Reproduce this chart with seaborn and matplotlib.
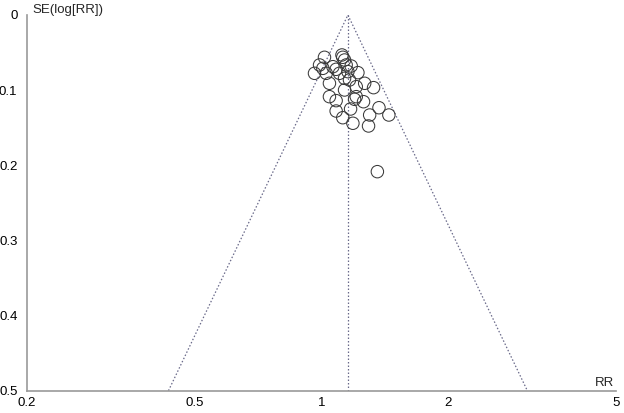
import numpy as np
import pandas as pd
import matplotlib
matplotlib.use("Agg")
import matplotlib.pyplot as plt
import seaborn as sns

# Study estimates (risk ratio) and standard errors of log(RR)
rr = [1.018, 1.12, 1.125, 1.136, 0.991, 0.964, 1.009, 1.066, 1.085, 1.146,
      1.178, 1.028, 1.105, 1.157, 1.222, 1.046, 1.136, 1.167, 1.136, 1.211,
      1.268, 1.331, 1.046, 1.085, 1.211, 1.200, 1.260, 1.085, 1.125, 1.174,
      1.189, 1.303, 1.371, 1.447, 1.295, 1.359]
se = [0.0563, 0.0532, 0.0563, 0.0599, 0.0665, 0.0776, 0.0710, 0.0688, 0.0723, 0.0665,
      0.0679, 0.0776, 0.0776, 0.0754, 0.0767, 0.0909, 0.0843, 0.0865, 0.0998, 0.0954,
      0.0909, 0.0967, 0.1087, 0.1140, 0.1087, 0.1122, 0.1154, 0.1278, 0.1367, 0.1251,
      0.1441, 0.1331, 0.1234, 0.1331, 0.1477, 0.2085]
pooled_rr = 1.157
se_max = 0.5
x_ticks = [0.2, 0.5, 1, 2, 5]
x_ticklabels = ["0.2", "0.5", "1", "2", "5"]
y_ticks = [0, 0.1, 0.2, 0.3, 0.4, 0.5]
y_ticklabels = ["0", "0.1", "0.2", "0.3", "0.4", "0.5"]

df = pd.DataFrame({"RR": rr, "SE": se})

sns.set_theme(style="white")
plt.rcParams["font.family"] = ["Liberation Sans", "DejaVu Sans"]

fig = plt.figure(figsize=(6.24, 4.13), dpi=100)
ax = fig.add_axes([0.0425, 0.054, 0.9445, 0.9097])

# funnel lines
lp = np.log(pooled_rr)
line_col = "#6a6a8a"
ax.plot([np.exp(lp - 1.96 * se_max), pooled_rr, np.exp(lp + 1.96 * se_max)],
        [se_max, 0, se_max], ls=(0, (1.2, 1.6)), color=line_col, lw=0.9, zorder=1)
ax.plot([pooled_rr, pooled_rr], [0, se_max], ls=(0, (1.2, 1.6)), color=line_col, lw=0.9, zorder=1)

sns.scatterplot(data=df, x="RR", y="SE", ax=ax, marker="o", s=80,
                facecolor="none", edgecolor="#3a3a3a", linewidth=0.75, zorder=3)

ax.set_xscale("log")
ax.set_xlim(0.2, 5)
ax.set_ylim(0.5, 0)
ax.set_xticks(x_ticks)
ax.set_xticklabels(x_ticklabels)
ax.xaxis.set_minor_locator(matplotlib.ticker.NullLocator())
ax.set_yticks(y_ticks)
ax.set_yticklabels(y_ticklabels)
ax.set_xlabel("")
ax.set_ylabel("")

for side in ["top", "right"]:
    ax.spines[side].set_visible(False)
for side in ["left", "bottom"]:
    ax.spines[side].set_color("#999999")
    ax.spines[side].set_linewidth(1.2)
ax.tick_params(axis="both", direction="inout", length=7, width=1.0, color="#888888",
               labelsize=9.5, labelcolor="black", pad=1)
ax.tick_params(axis="y", pad=3)

fig.text(32 / 624, 1 - 10 / 413, "SE(log[RR])", fontsize=9.5, ha="left", va="center")
fig.text(614 / 624, 1 - 383 / 413, "RR", fontsize=9.5, ha="right", va="center")

fig.savefig("out.png", dpi=100)
